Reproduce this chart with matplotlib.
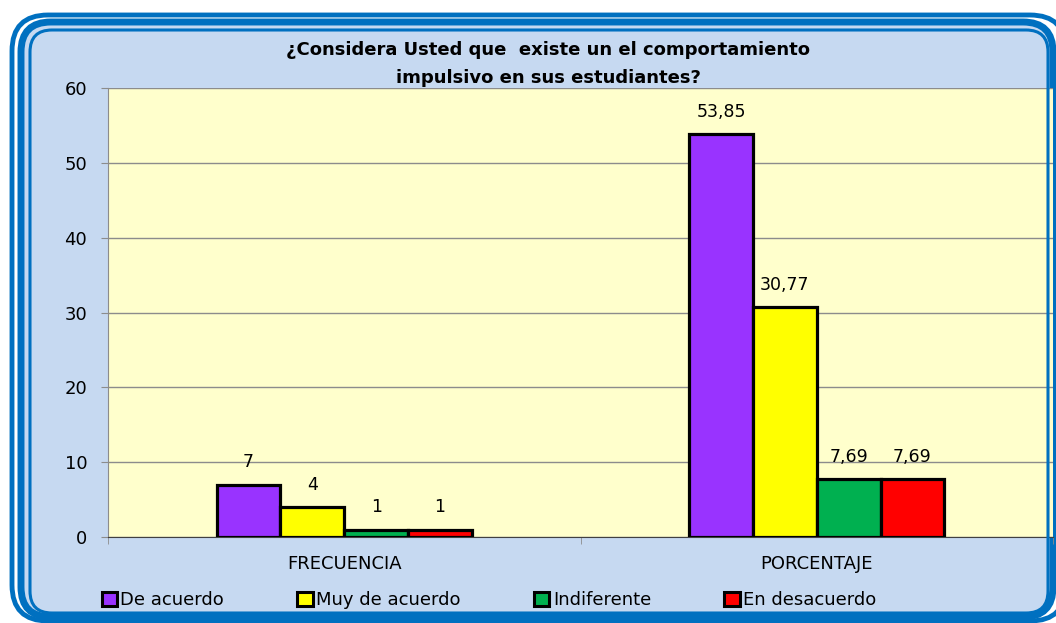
import numpy as np
import matplotlib
matplotlib.use('Agg')
import matplotlib.pyplot as plt
from matplotlib.patches import FancyBboxPatch, Patch
from matplotlib.transforms import IdentityTransform

categories = ['FRECUENCIA', 'PORCENTAJE']
series_names = ['De acuerdo', 'Muy de acuerdo', 'Indiferente', 'En desacuerdo']
de_acuerdo = [7, 53.85]
muy_de_acuerdo = [4, 30.77]
indiferente = [1, 7.69]
en_desacuerdo = [1, 7.69]
value_labels = [['7', '53,85'], ['4', '30,77'], ['1', '7,69'], ['1', '7,69']]
colors = ['#9933FF', '#FFFF00', '#00B050', '#FF0000']
title = '¿Considera Usted que  existe un el comportamiento\nimpulsivo en sus estudiantes?'

W, H = 1056, 623
fig = plt.figure(figsize=(W / 100, H / 100), dpi=100)
fig.patch.set_facecolor('white')


def px_box(left, top, right, bottom, **kw):
    # pixel coords from top-left -> display coords
    return FancyBboxPatch((left, H - bottom), right - left, bottom - top,
                          boxstyle='round,pad=0,rounding_size=%d' % kw.pop('r', 28),
                          transform=IdentityTransform(), **kw)


blue = '#0070C0'
fig.patches.append(px_box(12, 15, 1066, 621, r=36, facecolor='white',
                          edgecolor=blue, lw=3.5, zorder=-2))
fig.patches.append(px_box(21, 22, 1053, 617, r=30, facecolor='#C6D9F1',
                          edgecolor=blue, lw=5, zorder=-1))
fig.patches.append(px_box(30, 30, 1048, 613, r=22, facecolor='none',
                          edgecolor=blue, lw=2.2, zorder=5))

ax = fig.add_axes([108 / W, 1 - 537 / H, (1053 - 108) / W, (537 - 88) / H])
ax.set_facecolor('#FFFFCC')

x = np.arange(len(categories))
width = 0.135
series = [de_acuerdo, muy_de_acuerdo, indiferente, en_desacuerdo]
for i, vals in enumerate(series):
    pos = x + (i - 1.5) * width
    ax.bar(pos, vals, width, color=colors[i], edgecolor='black', lw=2.3, zorder=3)
    for p, v, lab in zip(pos, vals, value_labels[i]):
        ax.annotate(lab, (p, v), xytext=(0, 16), textcoords='offset points',
                    ha='center', va='center', fontsize=12.5)

ax.set_xlim(-0.5, 1.5)
ax.set_ylim(0, 60)
ax.set_yticks(range(0, 61, 10))
ax.grid(axis='y', color='#8C8C8C', lw=1, zorder=0)
ax.set_axisbelow(True)
for s in ['top', 'right']:
    ax.spines[s].set_visible(False)
ax.spines['left'].set_color('#8C8C8C')
ax.spines['bottom'].set_color('#404040')
ax.set_xticks(x)
ax.set_xticklabels(categories)
ax.set_xticks([-0.5, 0.5, 1.5], minor=True)
ax.tick_params(axis='x', which='major', length=0, pad=13, labelsize=13)
ax.tick_params(axis='x', which='minor', length=5, color='#8C8C8C')
ax.tick_params(axis='y', length=5, color='#8C8C8C', pad=10, labelsize=13)

fig.text(548 / W, 1 - 64 / H, title, ha='center', va='center', fontsize=13,
         fontweight='bold', linespacing=1.65)

handles = [Patch(facecolor=c, edgecolor='black', lw=2.2) for c in colors]
fig.legend(handles, series_names, loc='center', bbox_to_anchor=(489 / W, 1 - 600 / H),
           ncol=4, frameon=False, fontsize=13, handlelength=0.85, handleheight=0.85,
           handletextpad=0.2, columnspacing=4.05)

fig.savefig('out.png', dpi=100)
